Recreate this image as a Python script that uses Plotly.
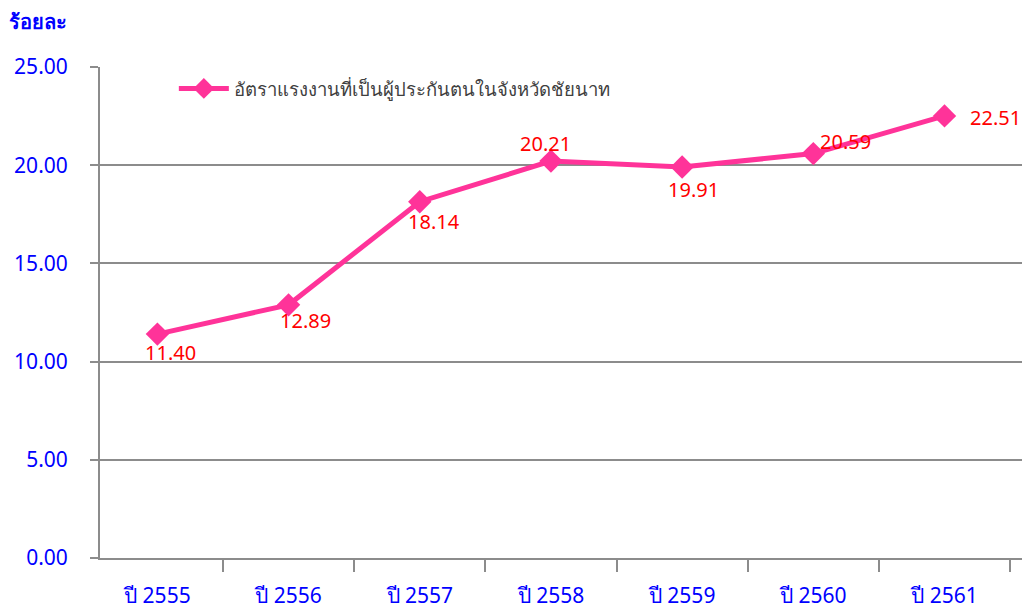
import plotly.graph_objects as go

categories = ["ปี 2555", "ปี 2556", "ปี 2557", "ปี 2558", "ปี 2559", "ปี 2560", "ปี 2561"]
values = [11.40, 12.89, 18.14, 20.21, 19.91, 20.59, 22.51]
series_name = "อัตราแรงงานที่เป็นผู้ประกันตนในจังหวัดชัยนาท"
y_ticks = [0, 5, 10, 15, 20, 25]
y_title = "ร้อยละ"

# label offsets (px) relative to each point
label_shifts = [(13, -18), (17, -16), (14, -20), (-5, 18), (11, -23), (32, 12), (51, -2)]

LINE = "#FF3399"
BLUE = "#0000FF"
GRID = "#8C8C8C"
FONT = "Tahoma, 'Noto Sans', 'DejaVu Sans', sans-serif"

fig = go.Figure()
fig.add_trace(go.Scatter(
    x=categories, y=values, mode="lines+markers", name=series_name,
    line=dict(color=LINE, width=5),
    marker=dict(symbol="diamond", size=18, color=LINE),
))

for c, v, (dx, dy) in zip(categories, values, label_shifts):
    fig.add_annotation(x=c, y=v, text=f"{v:.2f}", showarrow=False,
                       xshift=dx, yshift=dy,
                       font=dict(color="#FF0000", size=20, family=FONT))

fig.add_annotation(xref="paper", yref="paper", x=-0.101, y=1.092,
                   xanchor="left", yanchor="middle", text=f"<b>{y_title}</b>",
                   showarrow=False, font=dict(color=BLUE, size=20, family=FONT))

fig.update_layout(
    width=1030, height=601,
    margin=dict(l=92, r=15, t=59, b=51, autoexpand=False),
    plot_bgcolor="white", paper_bgcolor="white",
    showlegend=True,
    legend=dict(x=0.08, y=0.994, xanchor="left", yanchor="top",
                bgcolor="rgba(0,0,0,0)", font=dict(size=18.5, color="#404040", family=FONT),
                itemwidth=50),
    font=dict(family=FONT),
)
fig.update_xaxes(
    type="category", showgrid=False, showline=True, linecolor=GRID, linewidth=2,
    ticks="outside", tickson="boundaries", ticklen=12, tickwidth=2, tickcolor=GRID,
    ticklabelstandoff=18, automargin=False,
    tickfont=dict(color=BLUE, size=21, family=FONT), mirror=False,
)
fig.update_yaxes(
    range=[0, 25], tickvals=y_ticks, tickformat=".2f",
    showgrid=True, gridcolor=GRID, gridwidth=2,
    showline=True, linecolor=GRID, linewidth=2,
    ticks="outside", ticklen=8, tickwidth=2, tickcolor=GRID,
    ticklabelstandoff=18, automargin=False,
    tickfont=dict(color=BLUE, size=21, family=FONT), zeroline=False,
)

fig.write_html("out.html", config={"displayModeBar": False})
